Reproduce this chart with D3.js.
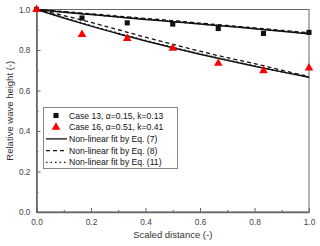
<!DOCTYPE html>
<html>
<head>
  <script src="https://d3js.org/d3.v7.min.js"></script>
  <style>
    html, body { margin: 0; padding: 0; background: white; }
    svg { display: block; }
    text { font-family: Arial, "Liberation Sans", sans-serif; fill: #333; }
    .tick text { font-size: 8.3px; fill: #444; }
    .axisTitle { font-size: 9.5px; }
    .legendText { font-size: 8.6px; fill: #111; }
  </style>
</head>
<body>
<script>
// measured points (scaled distance)
const pointX = [0, 0.167, 0.333, 0.5, 0.667, 0.833, 1.0];
const case13 = [1.0, 0.958, 0.934, 0.928, 0.906, 0.882, 0.887];
const case16 = [1.0, 0.877, 0.857, 0.808, 0.734, 0.698, 0.711];

const fitX = [0, 0.1, 0.2, 0.3, 0.4, 0.5, 0.6, 0.7, 0.8, 0.9, 1.0];
const fit13eq7  = [1.000, 0.987, 0.975, 0.963, 0.951, 0.940, 0.928, 0.917, 0.905, 0.893, 0.880];
const fit13eq8  = [1.000, 0.990, 0.979, 0.967, 0.956, 0.945, 0.933, 0.921, 0.909, 0.897, 0.885];
const fit13eq11 = [1.000, 0.988, 0.976, 0.964, 0.953, 0.941, 0.929, 0.918, 0.906, 0.894, 0.882];
const fit16eq7  = [1.000, 0.958, 0.918, 0.880, 0.845, 0.811, 0.779, 0.749, 0.720, 0.692, 0.665];
const fit16eq8  = [1.000, 0.970, 0.936, 0.900, 0.863, 0.828, 0.794, 0.762, 0.733, 0.700, 0.669];
const fit16eq11 = [1.000, 0.960, 0.921, 0.883, 0.847, 0.813, 0.781, 0.750, 0.721, 0.693, 0.666];

const majorTicks = [0, 0.2, 0.4, 0.6, 0.8, 1.0];
const minorTicks = [0.1, 0.3, 0.5, 0.7, 0.9];

const legendLabels = [
  "Case 13, \u03b1=0.15, k=0.13",
  "Case 16, \u03b1=0.51, k=0.41",
  "Non-linear fit by Eq. (7)",
  "Non-linear fit by Eq. (8)",
  "Non-linear fit by Eq. (11)"
];

const width = 320, height = 246;
const margin = {top: 9.5, left: 36.5, right: 11, bottom: 34};

const svg = d3.select("body").append("svg")
  .attr("width", width)
  .attr("height", height);

const x = d3.scaleLinear().domain([0, 1]).range([margin.left, width - margin.right]);
const y = d3.scaleLinear().domain([0, 1]).range([height - margin.bottom, margin.top]);

// frame (top/right thin)
svg.append("rect")
  .attr("x", x(0)).attr("y", y(1))
  .attr("width", x(1) - x(0)).attr("height", y(0) - y(1))
  .attr("fill", "none").attr("stroke", "#666").attr("stroke-width", 1);

// axes with inward ticks
function styleAxis(g) {
  g.select(".domain").attr("stroke", "#666").attr("stroke-width", 1.6);
  g.selectAll(".tick line").attr("stroke", "#666").attr("stroke-width", 1);
}

const xAxis = svg.append("g")
  .attr("transform", `translate(0,${y(0)})`)
  .call(d3.axisBottom(x).tickValues(majorTicks).tickSize(-4).tickSizeOuter(0)
    .tickPadding(7).tickFormat(d3.format(".1f")))
  .call(styleAxis);

svg.append("g")
  .attr("transform", `translate(0,${y(0)})`)
  .call(d3.axisBottom(x).tickValues(minorTicks).tickSize(-2).tickSizeOuter(0).tickFormat(""))
  .call(g => g.select(".domain").remove())
  .call(styleAxis);

const yAxis = svg.append("g")
  .attr("transform", `translate(${x(0)},0)`)
  .call(d3.axisLeft(y).tickValues(majorTicks).tickSize(-4).tickSizeOuter(0)
    .tickPadding(6).tickFormat(d3.format(".1f")))
  .call(styleAxis);

svg.append("g")
  .attr("transform", `translate(${x(0)},0)`)
  .call(d3.axisLeft(y).tickValues(minorTicks).tickSize(-2).tickSizeOuter(0).tickFormat(""))
  .call(g => g.select(".domain").remove())
  .call(styleAxis);

// fitted lines
const line = d3.line().x(d => x(d[0])).y(d => y(d[1])).curve(d3.curveMonotoneX);
const fits = [
  {vals: fit13eq7, dash: null, w: 1.5},
  {vals: fit16eq7, dash: null, w: 1.5},
  {vals: fit13eq8, dash: "4,3", w: 1.3},
  {vals: fit16eq8, dash: "4,3", w: 1.3},
  {vals: fit13eq11, dash: "1.5,3", w: 1.5},
  {vals: fit16eq11, dash: "1.5,3", w: 1.5}
];
fits.forEach(f => {
  svg.append("path")
    .datum(fitX.map((v, i) => [v, f.vals[i]]))
    .attr("d", line)
    .attr("fill", "none")
    .attr("stroke", "#111")
    .attr("stroke-width", f.w)
    .attr("stroke-dasharray", f.dash);
});

// markers
const sq = d3.symbol().type(d3.symbolSquare).size(26);
const tri = d3.symbol().type(d3.symbolTriangle).size(32);

svg.selectAll(".sq")
  .data(pointX.map((v, i) => [v, case13[i]]))
  .enter().append("path")
  .attr("class", "sq")
  .attr("d", sq)
  .attr("transform", d => `translate(${x(d[0])},${y(d[1])})`)
  .attr("fill", "#111");

svg.selectAll(".tri")
  .data(pointX.map((v, i) => [v, case16[i]]))
  .enter().append("path")
  .attr("class", "tri")
  .attr("d", tri)
  .attr("transform", d => `translate(${x(d[0])},${y(d[1])})`)
  .attr("fill", "#f00");

// legend
const lg = svg.append("g");
lg.append("rect")
  .attr("x", 43.5).attr("y", 107.5)
  .attr("width", 134).attr("height", 61)
  .attr("fill", "white").attr("stroke", "#888").attr("stroke-width", 1);

const rowY = i => 115.5 + i * 11.7;
lg.append("path").attr("d", sq).attr("fill", "#111")
  .attr("transform", `translate(56,${rowY(0)})`);
lg.append("path").attr("d", tri).attr("fill", "#f00")
  .attr("transform", `translate(56,${rowY(1)})`);
[null, "4,3", "1.5,3"].forEach((dash, k) => {
  lg.append("line")
    .attr("x1", 46).attr("x2", 67)
    .attr("y1", rowY(k + 2)).attr("y2", rowY(k + 2))
    .attr("stroke", "#111").attr("stroke-width", 1.3)
    .attr("stroke-dasharray", dash);
});
legendLabels.forEach((t, i) => {
  lg.append("text")
    .attr("class", "legendText")
    .attr("x", 69).attr("y", rowY(i))
    .attr("dy", "0.35em")
    .text(t);
});

// axis titles
svg.append("text")
  .attr("class", "axisTitle")
  .attr("x", (x(0) + x(1)) / 2)
  .attr("y", 238)
  .attr("text-anchor", "middle")
  .text("Scaled distance (-)");

svg.append("text")
  .attr("class", "axisTitle")
  .attr("transform", `translate(13,${(y(0) + y(1)) / 2}) rotate(-90)`)
  .attr("text-anchor", "middle")
  .text("Relative wave height (-)");
</script>
</body>
</html>
